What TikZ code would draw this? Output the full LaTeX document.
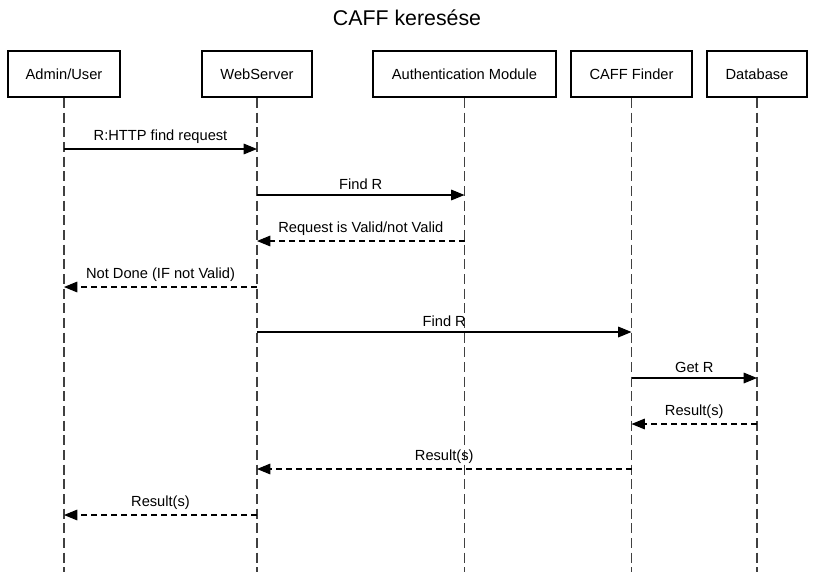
\documentclass[tikz,border=0pt]{standalone}
\usepackage{fontspec}
\setmainfont{Liberation Sans}
\usetikzlibrary{arrows.meta}
\tikzset{>={Triangle[length=10pt,width=8pt]}}
\colorlet{lifegray}{black!75}
\tikzset{
  party/.style={draw, line width=1.6pt, minimum height=34.5pt, font=\fontsize{11}{13}\selectfont},
  life/.style={lifegray, line width=0.9pt, dash pattern=on 7.5pt off 3.5pt},
  msg/.style={->, line width=0.8pt},
  reply/.style={->, line width=0.8pt, dash pattern=on 4.5pt off 3pt},
  lbl/.style={above=2.5pt, inner sep=1pt, font=\fontsize{11}{13}\selectfont}
}

\begin{document}
\begin{tikzpicture}[x=0.75pt,y=-0.75pt]
  \useasboundingbox (0,0) rectangle (813,572);

    \node[font=\fontsize{16}{19}\selectfont] (title) at (407,18) {CAFF keresése};

    % participants
    \node[party, minimum width=84pt] (admin) at (64,74) {Admin/User};
    \node[party, minimum width=82.5pt] (web) at (257,74) {WebServer};
    \node[party, minimum width=137.25pt] (auth) at (464.5,74) {Authentication Module};
    \node[party, minimum width=90.75pt] (finder) at (631.5,74) {CAFF Finder};
    \node[party, minimum width=75pt] (db) at (757,74) {Database};

    \coordinate (bottom) at (0,572);
    \foreach \n in {admin,web,auth,finder,db}
      \draw[life] (\n.south) -- (\n.south |- bottom);

    % message levels
    \coordinate (m1) at (0,149);
    \coordinate (m2) at (0,195);
    \coordinate (m3) at (0,241);
    \coordinate (m4) at (0,287);
    \coordinate (m5) at (0,332);
    \coordinate (m6) at (0,378);
    \coordinate (m7) at (0,424);
    \coordinate (m8) at (0,469);
    \coordinate (m9) at (0,515);

    \draw[msg] (admin.south |- m1) -- node[lbl] {R:HTTP find request} (web.south |- m1);
    \draw[msg] (web.south |- m2) -- node[lbl] {Find R} (auth.south |- m2);
    \draw[reply] (auth.south |- m3) -- node[lbl] {Request is Valid/not Valid} (web.south |- m3);
    \draw[reply] (web.south |- m4) -- node[lbl] {Not Done (IF not Valid)} (admin.south |- m4);
    \draw[msg] (web.south |- m5) -- node[lbl] {Find R} (finder.south |- m5);
    \draw[msg] (finder.south |- m6) -- node[lbl] {Get R} (db.south |- m6);
    \draw[reply] (db.south |- m7) -- node[lbl] {Result(s)} (finder.south |- m7);
    \draw[reply] (finder.south |- m8) -- node[lbl] {Result(s)} (web.south |- m8);
    \draw[reply] (web.south |- m9) -- node[lbl] {Result(s)} (admin.south |- m9);
\end{tikzpicture}
\end{document}
